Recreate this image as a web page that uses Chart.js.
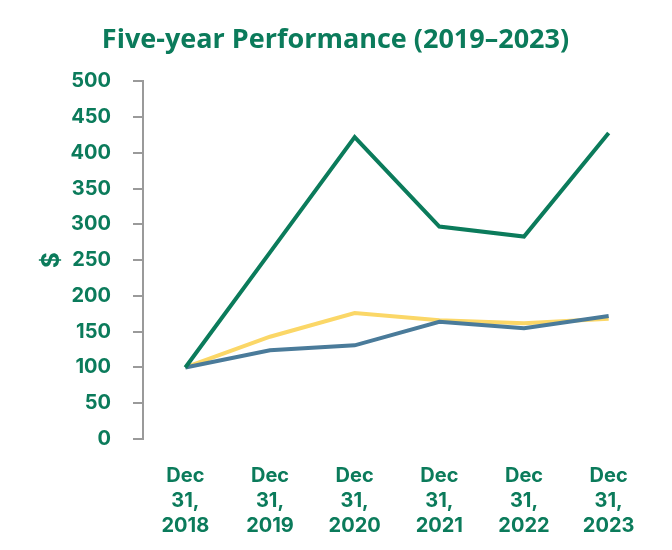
<!DOCTYPE html>
<html>
<head>
<meta charset="utf-8">
<script src="https://cdn.jsdelivr.net/npm/chart.js@4/dist/chart.umd.min.js"></script>
<style>
  html, body { margin: 0; padding: 0; background: #ffffff; }
  #wrap { width: 672px; height: 550px; }
</style>
</head>
<body>
<div id="wrap"><canvas id="c" width="672" height="550"></canvas></div>
<script>
const categories = [
  ['Dec', '31,', '2018'],
  ['Dec', '31,', '2019'],
  ['Dec', '31,', '2020'],
  ['Dec', '31,', '2021'],
  ['Dec', '31,', '2022'],
  ['Dec', '31,', '2023']
];
const companyValues = [100, 261, 422, 297, 283, 428];
const indexAValues = [100, 143, 176, 166, 162, 168];
const indexBValues = [100, 124, 131, 164, 155, 172];
const yTicks = [0, 50, 100, 150, 200, 250, 300, 350, 400, 450, 500];

const GREEN = '#0b7b5b';
const TITLE_FONT = "'Open Sans', 'DejaVu Sans', sans-serif";
const TICK_FONT = "Inter, 'DejaVu Sans', sans-serif";

new Chart(document.getElementById('c'), {
  type: 'line',
  data: {
    labels: categories,
    datasets: [
      { label: 'Company', data: companyValues, borderColor: '#0b7b5b', borderWidth: 4, pointRadius: 0, tension: 0, fill: false },
      { label: 'Index B', data: indexBValues, borderColor: '#4a7b9a', borderWidth: 4, pointRadius: 0, tension: 0, fill: false },
      { label: 'Index A', data: indexAValues, borderColor: '#fbd767', borderWidth: 4, pointRadius: 0, tension: 0, fill: false }
    ]
  },
  options: {
    responsive: false,
    animation: false,
    devicePixelRatio: 1,
    layout: { padding: { top: 14, right: 21, bottom: 0, left: 20 } },
    plugins: {
      legend: { display: false },
      tooltip: { enabled: false },
      title: {
        display: true,
        text: 'Five-year Performance (2019–2023)',
        color: GREEN,
        font: { family: TITLE_FONT, size: 27, weight: '700', lineHeight: 1.2 },
        padding: { top: 10, bottom: 25 }
      }
    },
    scales: {
      x: {
        offset: true,
        grid: { display: false, drawTicks: false },
        border: { display: false },
        ticks: {
          color: GREEN,
          font: { family: TICK_FONT, size: 20, weight: '700', lineHeight: 1.25 },
          padding: 24,
          maxRotation: 0,
          autoSkip: false
        },
        afterFit: (axis) => { axis.height = 111; }
      },
      y: {
        min: 0,
        max: 500,
        afterBuildTicks: (axis) => { axis.ticks = yTicks.map(v => ({ value: v })); },
        afterFit: (axis) => { axis.width = 123; },
        border: { display: true, color: '#9a9a9a', width: 2 },
        grid: { display: true, drawOnChartArea: false, drawTicks: true, tickLength: 10, color: '#9a9a9a', lineWidth: 2 },
        ticks: {
          color: GREEN,
          font: { family: TICK_FONT, size: 20, weight: '700' },
          padding: 22
        },
        title: {
          display: true,
          text: '$',
          color: GREEN,
          font: { family: TICK_FONT, size: 24, weight: '700', lineHeight: 1.2 },
          padding: { top: 17, bottom: 0 }
        }
      }
    }
  }
});
</script>
</body>
</html>
